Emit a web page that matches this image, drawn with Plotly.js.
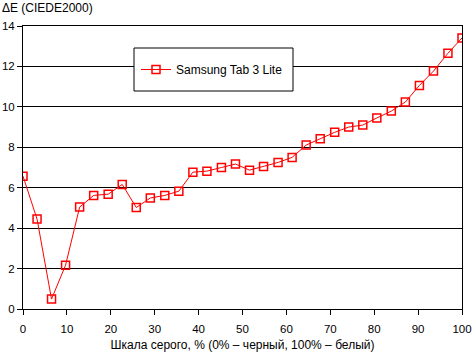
<!DOCTYPE html>
<html>
<head>
<meta charset="utf-8">
<script src="https://cdn.plot.ly/plotly-3.0.1.min.js"></script>
<style>html,body{margin:0;padding:0;background:#fff}#chart{width:472px;height:352px}</style>
</head>
<body>
<div id="chart"></div>
<script>
const grayLevels = [0, 3.2, 6.5, 9.7, 12.9, 16.1, 19.4, 22.6, 25.8, 29.0, 32.3, 35.5, 38.7, 41.9, 45.2, 48.4, 51.6, 54.8, 58.1, 61.3, 64.5, 67.7, 71.0, 74.2, 77.4, 80.6, 83.9, 87.1, 90.3, 93.5, 96.8, 100];
const deltaE = [6.57, 4.45, 0.49, 2.17, 5.04, 5.62, 5.68, 6.16, 5.02, 5.49, 5.62, 5.83, 6.77, 6.82, 7.00, 7.17, 6.87, 7.05, 7.25, 7.50, 8.11, 8.42, 8.74, 9.00, 9.10, 9.45, 9.79, 10.24, 11.06, 11.77, 12.65, 13.41];
const seriesName = "Samsung Tab 3 Lite";
const xTicks = [0, 10, 20, 30, 40, 50, 60, 70, 80, 90, 100];
const yTicks = [0, 2, 4, 6, 8, 10, 12, 14];

const font = {family: "Liberation Sans, Arial, sans-serif", size: 12, color: "#000"};
const tickFont = {family: "Liberation Sans, Arial, sans-serif", size: 11.5, color: "#000"};

const trace = {
  x: grayLevels, y: deltaE, name: seriesName,
  type: "scatter", mode: "lines+markers",
  line: {color: "#ff0000", width: 1},
  marker: {symbol: "square-open", size: 8, color: "#ff0000", line: {width: 1.5, color: "#ff0000"}},
  showlegend: true
};

const L = 23, R = 462, T = 26, B = 309, W = 472, H = 352;
const pw = R - L, ph = B - T;
const px = v => (v - L) / pw;
const py = v => (B - v) / ph;

const layout = {
  width: W, height: H,
  margin: {l: L, r: W - R, t: T, b: H - B, pad: 0},
  paper_bgcolor: "#fff", plot_bgcolor: "#fff",
  font: font,
  showlegend: true,
  xaxis: {
    range: [0, 100], tickvals: xTicks, ticktext: xTicks.map(String),
    showgrid: false, zeroline: false,
    showline: true, linecolor: "#000", linewidth: 1, mirror: true,
    ticks: "outside", ticklen: 5, tickcolor: "#000", tickwidth: 1,
    tickfont: tickFont, ticklabelstandoff: 4, ticklabeloverflow: "allow",
    title: {text: "Шкала серого, % (0% – черный, 100% – белый)", font: font, standoff: 8}
  },
  yaxis: {
    range: [0, 14], tickvals: yTicks, ticktext: yTicks.map(String),
    showgrid: true, gridcolor: "#000", gridwidth: 1, zeroline: false,
    showline: true, linecolor: "#000", linewidth: 1, mirror: true,
    ticks: "outside", ticklen: 5, tickcolor: "#000", tickwidth: 1,
    tickfont: tickFont, ticklabelstandoff: 0, ticklabeloverflow: "allow"
  },
  shapes: [{
    type: "rect", xref: "paper", yref: "paper", layer: "above",
    x0: px(134), x1: px(293), y0: py(91), y1: py(48),
    fillcolor: "#fff", line: {color: "#000", width: 1}
  }],
  legend: {
    x: px(136), y: py(69.5), xanchor: "left", yanchor: "middle",
    bgcolor: "rgba(0,0,0,0)", borderwidth: 0, font: font,
    itemwidth: 30, tracegroupgap: 0
  },
  annotations: [{
    text: "ΔE (CIEDE2000)", xref: "paper", yref: "paper",
    x: px(0), y: py(8), xanchor: "left", yanchor: "middle",
    showarrow: false, font: font
  }]
};

Plotly.newPlot("chart", [trace], layout, {staticPlot: true, displayModeBar: false});
</script>
</body>
</html>
